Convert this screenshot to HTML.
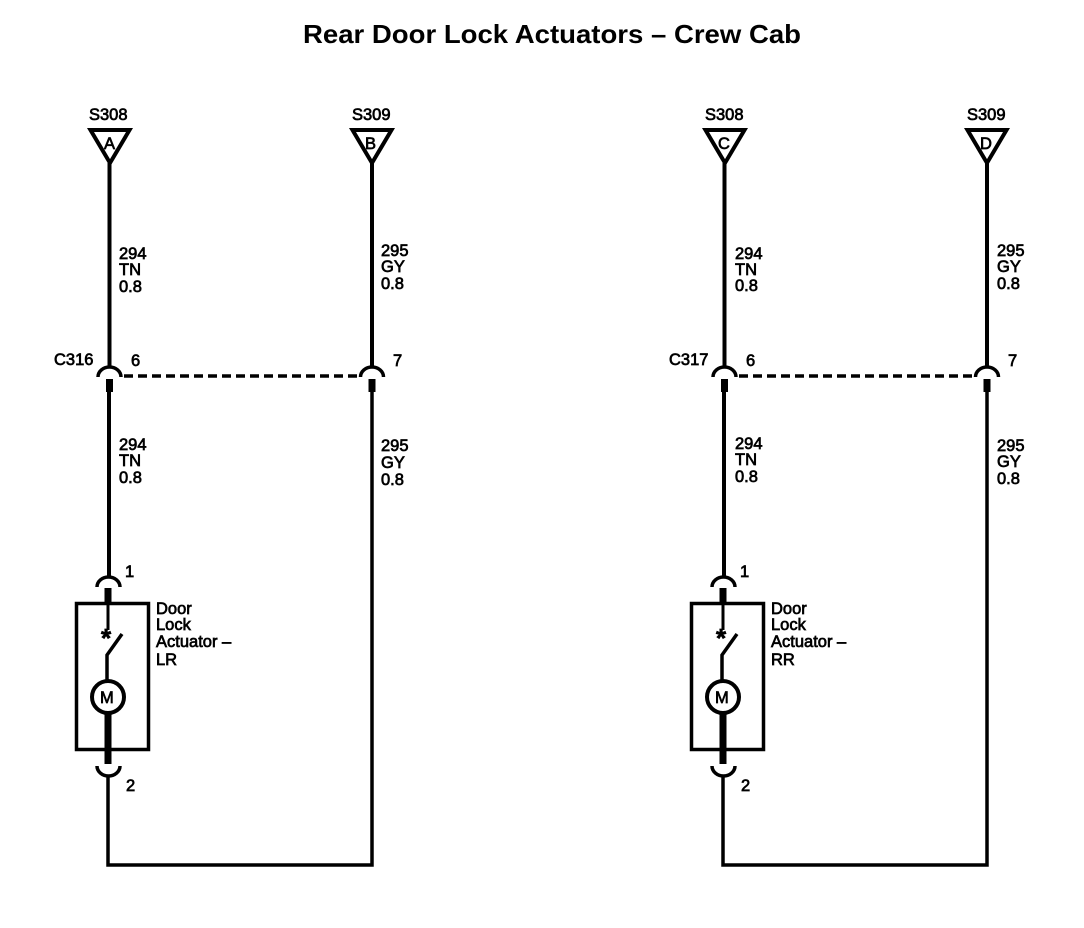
<!DOCTYPE html>
<html><head><meta charset="utf-8"><style>
html,body{margin:0;padding:0;background:#fff}
svg{display:block}
text{font-family:"Liberation Sans",sans-serif;font-size:16.5px;fill:#000;stroke:#000;stroke-width:.7px}
</style></head><body>
<svg width="1084" height="928" viewBox="0 0 1084 928" xmlns="http://www.w3.org/2000/svg">
<rect width="1084" height="928" fill="#fff"/>
<text x="303" y="43" style="font-size:26px;font-weight:bold;stroke-width:0" textLength="498" lengthAdjust="spacingAndGlyphs">Rear Door Lock Actuators – Crew Cab</text>

<g fill="none" stroke="#000">
<!-- left -->
<path d="M90.500 130H129.500L110 163Z" stroke-width="4" fill="#fff"/>
<path d="M352.500 130H391.500L372 163Z" stroke-width="4" fill="#fff"/>
<path d="M109.500 163V366M372 163V366" stroke-width="4"/>
<path d="M98 377A11.500 10 0 0 1 121 377M360.500 377A11.500 10 0 0 1 383.500 377" stroke-width="3.500"/>
<path d="M109.500 379V392M372 379V392" stroke-width="7"/>
<path d="M109 392V577" stroke-width="4"/>
<path d="M372 392V865H108V777" stroke-width="3.500"/>
<path d="M124 376H359" stroke-width="3.500" stroke-dasharray="9 5"/>
<path d="M97 587A11.500 10 0 0 1 120 587" stroke-width="3.500"/>
<path d="M108 588V603" stroke-width="7"/>
<rect x="76.500" y="603.500" width="72" height="146" stroke-width="3.500"/>
<path d="M108 603V630" stroke-width="3"/>
<path d="M122 634L107 655V681" stroke-width="3.500"/>
<path d="M108 713V764" stroke-width="7"/>
<path d="M97 766A11.500 10 0 0 0 120 766" stroke-width="3.500"/>
<circle cx="108" cy="697" r="16" stroke-width="4" fill="#fff"/>
<!-- right -->
<path d="M705.500 130H744.500L725 163Z" stroke-width="4" fill="#fff"/>
<path d="M967.500 130H1006.500L987 163Z" stroke-width="4" fill="#fff"/>
<path d="M724.500 163V366M987 163V366" stroke-width="4"/>
<path d="M713 377A11.500 10 0 0 1 736 377M975.500 377A11.500 10 0 0 1 998.500 377" stroke-width="3.500"/>
<path d="M724.500 379V392M987 379V392" stroke-width="7"/>
<path d="M724 392V577" stroke-width="4"/>
<path d="M987 392V865H723V777" stroke-width="3.500"/>
<path d="M739 376H974" stroke-width="3.500" stroke-dasharray="9 5"/>
<path d="M712 587A11.500 10 0 0 1 735 587" stroke-width="3.500"/>
<path d="M723 588V603" stroke-width="7"/>
<rect x="691.500" y="603.500" width="72" height="146" stroke-width="3.500"/>
<path d="M723 603V630" stroke-width="3"/>
<path d="M737 634L722 655V681" stroke-width="3.500"/>
<path d="M723 713V764" stroke-width="7"/>
<path d="M712 766A11.500 10 0 0 0 735 766" stroke-width="3.500"/>
<circle cx="723" cy="697" r="16" stroke-width="4" fill="#fff"/>
</g>

<g>
<text x="89" y="120">S308</text><text x="352" y="120">S309</text>
<text x="104" y="149">A</text><text x="365" y="149">B</text>
<text x="119" y="259">294</text><text x="119" y="275">TN</text><text x="119" y="292">0.8</text>
<text x="381" y="256">295</text><text x="381" y="272">GY</text><text x="381" y="289">0.8</text>
<text x="54" y="365">C316</text><text x="131" y="366">6</text><text x="393" y="366">7</text>
<text x="119" y="450">294</text><text x="119" y="466">TN</text><text x="119" y="483">0.8</text>
<text x="381" y="451">295</text><text x="381" y="468">GY</text><text x="381" y="485">0.8</text>
<text x="125" y="577">1</text><text x="126" y="791">2</text>
<text x="156" y="614">Door</text><text x="156" y="630">Lock</text><text x="156" y="647">Actuator –</text><text x="156" y="665">LR</text>
<text x="101" y="647" style="font-size:26px;font-weight:bold">*</text>
<text x="100" y="703">M</text>

<text x="705" y="120">S308</text><text x="967" y="120">S309</text>
<text x="718" y="149">C</text><text x="980" y="149">D</text>
<text x="735" y="259">294</text><text x="735" y="275">TN</text><text x="735" y="291">0.8</text>
<text x="997" y="256">295</text><text x="997" y="272">GY</text><text x="997" y="289">0.8</text>
<text x="669" y="365">C317</text><text x="746" y="366">6</text><text x="1008" y="366">7</text>
<text x="735" y="449">294</text><text x="735" y="465">TN</text><text x="735" y="482">0.8</text>
<text x="997" y="451">295</text><text x="997" y="467">GY</text><text x="997" y="484">0.8</text>
<text x="740" y="577">1</text><text x="741" y="791">2</text>
<text x="771" y="614">Door</text><text x="771" y="630">Lock</text><text x="771" y="647">Actuator –</text><text x="771" y="665">RR</text>
<text x="716" y="647" style="font-size:26px;font-weight:bold">*</text>
<text x="715" y="703">M</text>
</g>
</svg>
</body></html>
